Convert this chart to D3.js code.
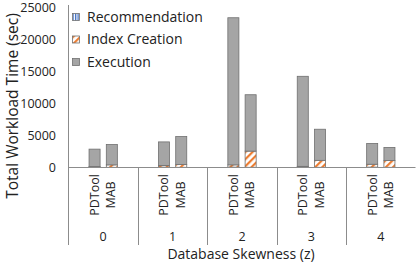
<!DOCTYPE html>
<html>
<head>
<meta charset="utf-8">
<script src="https://cdn.jsdelivr.net/npm/d3@7"></script>
<style>
  body { margin: 0; background: #fff; }
  text { font-family: "Open Sans", sans-serif; fill: #222; }
</style>
</head>
<body>
<svg id="chart" width="416" height="266"></svg>
<script>
// values (seconds)
var categories = ['0', '1', '2', '3', '4'];
var methods = ['PDTool', 'MAB'];
var yTicks = [0, 5000, 10000, 15000, 20000, 25000];

var recPDTool = [80, 60, 60, 80, 60];
var recMAB = [30, 30, 30, 30, 30];
var idxPDTool = [60, 250, 350, 100, 450];
var idxMAB = [380, 430, 2530, 1090, 1070];
var execPDTool = [2730, 3690, 22990, 14070, 3250];
var execMAB = [3190, 4380, 8810, 4860, 2040];

var seriesNames = ['Recommendation', 'Index Creation', 'Execution'];

var rows = [];
categories.forEach(function(c, i) {
  rows.push({cat: c, method: 'PDTool', Recommendation: recPDTool[i], 'Index Creation': idxPDTool[i], Execution: execPDTool[i]});
  rows.push({cat: c, method: 'MAB', Recommendation: recMAB[i], 'Index Creation': idxMAB[i], Execution: execMAB[i]});
});

var svg = d3.select('#chart');
var defs = svg.append('defs');

// blue vertical stripes
var p1 = defs.append('pattern').attr('id', 'recPat')
  .attr('patternUnits', 'userSpaceOnUse').attr('width', 2.5).attr('height', 4);
p1.append('rect').attr('width', 2.5).attr('height', 4).attr('fill', '#fff');
p1.append('rect').attr('width', 1.3).attr('height', 4).attr('fill', '#4472c4');

// orange diagonal hatch
var p2 = defs.append('pattern').attr('id', 'idxPat')
  .attr('patternUnits', 'userSpaceOnUse').attr('width', 5).attr('height', 5)
  .attr('patternTransform', 'rotate(45)');
p2.append('rect').attr('width', 5).attr('height', 5).attr('fill', '#fff');
p2.append('rect').attr('width', 2.2).attr('height', 5).attr('fill', '#ed7d31');

var fills = {'Recommendation': 'url(#recPat)', 'Index Creation': 'url(#idxPat)', 'Execution': '#a5a5a5'};

var x0 = d3.scaleBand().domain(categories).range([68.5, 415.5]);
var x1 = d3.scaleBand().domain(methods).range([0, x0.bandwidth()])
  .paddingInner(0.36).paddingOuter(1.19);
var y = d3.scaleLinear().domain([0, 25000]).range([167.5, 7.5]);

var stack = d3.stack().keys(seriesNames);
var stacked = stack(rows);

// bars
stacked.forEach(function(layer) {
  svg.append('g').selectAll('rect')
    .data(layer)
    .enter()
    .append('rect')
    .attr('x', d => x0(d.data.cat) + x1(d.data.method))
    .attr('width', x1.bandwidth())
    .attr('y', d => y(d[1]))
    .attr('height', d => y(d[0]) - y(d[1]))
    .attr('fill', fills[layer.key])
    .attr('stroke', '#707070')
    .attr('stroke-width', 0.8);
});

var axisColor = '#8c8c8c';

// y axis line (runs down through category area)
svg.append('line').attr('x1', 68.5).attr('x2', 68.5).attr('y1', 5).attr('y2', 245)
  .attr('stroke', axisColor);
// x axis baseline
svg.append('line').attr('x1', 68.5).attr('x2', 415.5).attr('y1', y(0)).attr('y2', y(0))
  .attr('stroke', axisColor).attr('stroke-width', 1.2);

// group separators
svg.append('g').selectAll('line')
  .data(categories.slice(1).concat(['end']))
  .enter()
  .append('line')
  .attr('x1', (d, i) => Math.round(68.5 + (i + 1) * x0.step()) + 0.5)
  .attr('x2', (d, i) => Math.round(68.5 + (i + 1) * x0.step()) + 0.5)
  .attr('y1', y(0))
  .attr('y2', 245)
  .attr('stroke', axisColor);

// y tick labels
svg.append('g').selectAll('text')
  .data(yTicks)
  .enter()
  .append('text')
  .attr('x', 56)
  .attr('y', d => y(d))
  .attr('dy', '0.35em')
  .attr('text-anchor', 'end')
  .style('font-size', '12.5px')
  .text(d => d);

// method labels, rotated
rows.forEach(function(r) {
  var cx = x0(r.cat) + x1(r.method) + x1.bandwidth() / 2;
  var shift = r.method === 'MAB' ? -1 : 0;
  svg.append('text')
    .attr('transform', 'translate(' + (cx + 4.5 + shift) + ',195) rotate(-90)')
    .attr('text-anchor', 'middle')
    .style('font-size', '12.5px')
    .text(r.method);
});

// category labels
svg.append('g').selectAll('text')
  .data(categories)
  .enter()
  .append('text')
  .attr('x', d => x0(d) + x0.bandwidth() / 2)
  .attr('y', 241)
  .attr('text-anchor', 'middle')
  .style('font-size', '12.5px')
  .text(d => d);

// axis titles
svg.append('text')
  .attr('x', 241).attr('y', 259)
  .attr('text-anchor', 'middle')
  .style('font-size', '14px')
  .text('Database Skewness (z)');

svg.append('text')
  .attr('transform', 'translate(18,106) rotate(-90)')
  .attr('text-anchor', 'middle')
  .style('font-size', '15.5px')
  .text('Total Workload Time (sec)');

// legend
var legend = svg.append('g').selectAll('g')
  .data(seriesNames)
  .enter()
  .append('g')
  .attr('transform', (d, i) => 'translate(72.5,' + (13.5 + i * 22.5) + ')');

legend.append('rect')
  .attr('width', 7).attr('height', 7)
  .attr('fill', d => fills[d])
  .attr('stroke', '#707070')
  .attr('stroke-width', 0.8);

legend.append('text')
  .attr('x', 14.5)
  .attr('y', 3.5)
  .attr('dy', '0.35em')
  .style('font-size', '14px')
  .text(d => d);
</script>
</body>
</html>
